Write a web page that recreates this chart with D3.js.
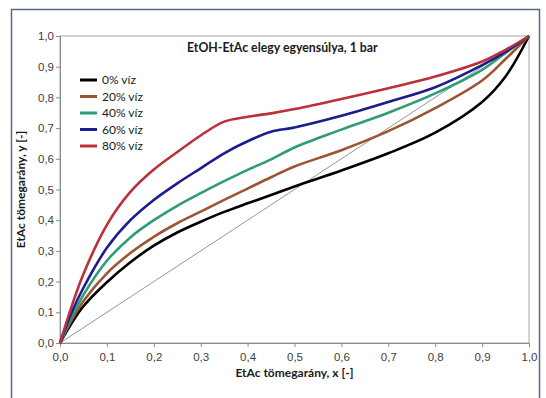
<!DOCTYPE html>
<html>
<head>
<meta charset="utf-8">
<script src="https://cdn.jsdelivr.net/npm/d3@7"></script>
<style>
  body { margin: 0; background: #fff; }
  svg { display: block; font-family: Lato, "Open Sans", sans-serif; }
</style>
</head>
<body>
<div id="chart"></div>
<script>
// EtAc mass fraction in liquid (x) and values (y)
const xs = [0, 0.025, 0.05, 0.1, 0.15, 0.2, 0.25, 0.3, 0.35, 0.4, 0.45, 0.5, 0.6, 0.7, 0.8, 0.9, 0.95, 1.0];
const viz0  = [0, 0.065, 0.12, 0.198, 0.263, 0.317, 0.36, 0.395, 0.427, 0.455, 0.482, 0.51, 0.562, 0.618, 0.685, 0.785, 0.868, 1.0];
const viz20 = [0, 0.075, 0.137, 0.227, 0.293, 0.346, 0.39, 0.428, 0.466, 0.503, 0.54, 0.575, 0.628, 0.69, 0.765, 0.855, 0.925, 1.0];
const viz40 = [0, 0.085, 0.157, 0.268, 0.344, 0.40, 0.447, 0.488, 0.527, 0.564, 0.598, 0.637, 0.695, 0.75, 0.813, 0.89, 0.945, 1.0];
const viz60 = [0, 0.1, 0.18, 0.31, 0.40, 0.466, 0.52, 0.569, 0.618, 0.657, 0.688, 0.702, 0.74, 0.785, 0.833, 0.905, 0.948, 1.0];
const viz80 = [0, 0.12, 0.225, 0.385, 0.492, 0.565, 0.622, 0.676, 0.721, 0.737, 0.748, 0.762, 0.795, 0.83, 0.868, 0.917, 0.955, 1.0];
const diagonal = [0, 1];

const seriesNames = ['0% víz', '20% víz', '40% víz', '60% víz', '80% víz'];
const seriesValues = [viz0, viz20, viz40, viz60, viz80];
const seriesColors = ['#000000', '#9c5532', '#2e9c76', '#1c1c8e', '#bb3039'];

const tickValues = [0, 0.1, 0.2, 0.3, 0.4, 0.5, 0.6, 0.7, 0.8, 0.9, 1.0];

const width = 546, height = 398;
const margin = { left: 60, right: 17, top: 36, bottom: 55 };

const svg = d3.select('#chart').append('svg')
  .attr('width', width)
  .attr('height', height);

// outer frame
svg.append('rect')
  .attr('x', 11.5).attr('y', 9.5)
  .attr('width', 528).attr('height', 400)
  .attr('fill', '#fff')
  .attr('stroke', '#566b8a')
  .attr('stroke-width', 1.5);

const x = d3.scaleLinear().domain([0, 1]).range([margin.left, width - margin.right]);
const y = d3.scaleLinear().domain([0, 1]).range([height - margin.bottom, margin.top]);

const fmt = d => d.toFixed(1).replace('.', ',');

// plot border
svg.append('rect')
  .attr('x', x(0)).attr('y', y(1))
  .attr('width', x(1) - x(0)).attr('height', y(0) - y(1))
  .attr('fill', 'none')
  .attr('stroke', '#a6a6a6');

const xAxis = svg.append('g')
  .attr('transform', `translate(0,${y(0)})`)
  .call(d3.axisBottom(x).tickValues(tickValues).tickFormat(fmt).tickSize(4).tickSizeOuter(0));

const yAxis = svg.append('g')
  .attr('transform', `translate(${x(0)},0)`)
  .call(d3.axisLeft(y).tickValues(tickValues).tickFormat(fmt).tickSize(4).tickSizeOuter(0));

[xAxis, yAxis].forEach(g => {
  g.selectAll('path, line').attr('stroke', '#8c8c8c');
  g.selectAll('text').attr('fill', '#404040').style('font-size', '11.5px');
});
xAxis.selectAll('text').attr('dy', '0.95em');
yAxis.selectAll('text').attr('x', -6);

// y = x reference line
svg.append('line')
  .attr('x1', x(diagonal[0])).attr('y1', y(diagonal[0]))
  .attr('x2', x(diagonal[1])).attr('y2', y(diagonal[1]))
  .attr('stroke', '#7a7a7a')
  .attr('stroke-width', 0.8);

const line = d3.line()
  .x((d, i) => x(xs[i]))
  .y(d => y(d))
  .curve(d3.curveCatmullRom.alpha(0.5));

svg.selectAll('path.series')
  .data(seriesValues)
  .enter().append('path')
  .attr('class', 'series')
  .attr('d', line)
  .attr('fill', 'none')
  .attr('stroke', (d, i) => seriesColors[i])
  .attr('stroke-width', 2.6);

// legend
const legend = svg.append('g').attr('transform', 'translate(80,80)');
seriesNames.forEach((name, i) => {
  const row = legend.append('g').attr('transform', `translate(0,${i * 16.5})`);
  row.append('line')
    .attr('x1', 0).attr('x2', 17)
    .attr('stroke', seriesColors[i])
    .attr('stroke-width', 3);
  row.append('text')
    .attr('x', 22).attr('dy', '0.35em')
    .attr('fill', '#1a1a1a')
    .style('font-size', '12px')
    .text(name);
});

// title and axis titles
svg.append('text')
  .attr('x', 187).attr('y', 52)
  .attr('fill', '#1a1a1a')
  .style('font-size', '12.3px')
  .style('font-weight', 'bold')
  .text('EtOH-EtAc elegy egyensúlya, 1 bar');

svg.append('text')
  .attr('x', (x(0) + x(1)) / 2).attr('y', 377)
  .attr('text-anchor', 'middle')
  .attr('fill', '#1a1a1a')
  .style('font-size', '12px')
  .style('font-weight', 'bold')
  .text('EtAc tömegarány, x [-]');

svg.append('text')
  .attr('transform', `translate(25,${(y(0) + y(1)) / 2}) rotate(-90)`)
  .attr('text-anchor', 'middle')
  .attr('fill', '#1a1a1a')
  .style('font-size', '12px')
  .style('font-weight', 'bold')
  .text('EtAc tömegarány, y [-]');
</script>
</body>
</html>
